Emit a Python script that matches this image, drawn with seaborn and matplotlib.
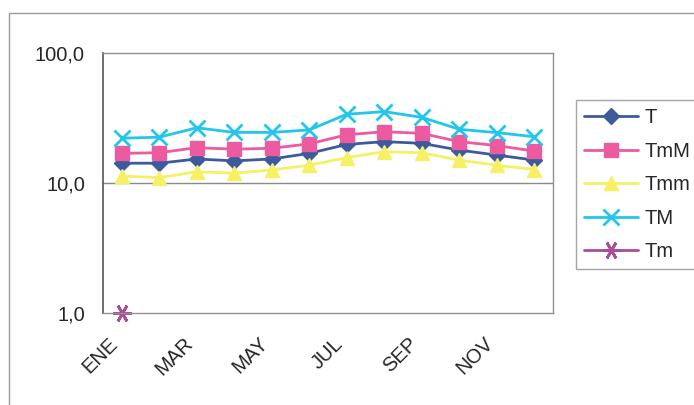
#!/usr/bin/env python3
import numpy as np
import pandas as pd
import seaborn as sns
import matplotlib.pyplot as plt
from matplotlib.patches import Rectangle

# categories
MONTHS = ["ENE", "FEB", "MAR", "ABR", "MAY", "JUN", "JUL", "AGO", "SEP", "OCT", "NOV", "DIC"]
SHOWN_LABELS = ["ENE", "MAR", "MAY", "JUL", "SEP", "NOV"]

# series
T   = [14.2, 14.2, 15.3, 14.8, 15.3, 16.9, 19.8, 20.8, 20.2, 17.9, 16.4, 15.0]
TMM = [16.9, 17.1, 18.7, 18.2, 18.5, 20.0, 23.5, 24.8, 24.1, 20.8, 19.4, 17.6]
TMMIN = [11.3, 11.0, 12.2, 11.9, 12.6, 13.7, 15.7, 17.4, 17.1, 15.0, 13.7, 12.7]
TM  = [22.1, 22.5, 26.6, 24.5, 24.5, 25.6, 33.8, 35.4, 32.0, 25.9, 24.4, 22.7]
TMIN = [1.0] + [np.nan] * 11

STAR = (6, 2, 90)
SERIES = [
    ("T", T, "#3d5a9c", "D", 8),
    ("TmM", TMM, "#ec5aa0", "s", 10),
    ("Tmm", TMMIN, "#f6f064", "^", 10),
    ("TM", TM, "#22c6ea", "x", 11),
    ("Tm", TMIN, "#a84d98", STAR, 13),
]

sns.set_style("white")
plt.rcParams["font.family"] = ["Liberation Sans", "DejaVu Sans"]
plt.rcParams["font.size"] = 14.5

fig = plt.figure(figsize=(6.94, 4.05), dpi=100)
ax = fig.add_axes([103 / 694, 1 - 313 / 405, 450 / 694, 260 / 405])

# outer chart frame
fig.patches.append(Rectangle((9 / 694, -0.1), 1.0, 1.1 - 13 / 405, transform=fig.transFigure,
                             fill=False, edgecolor="#9a9a9a", linewidth=1.0))

for name, vals, col, mk, ms in SERIES:
    df = pd.DataFrame({"x": np.arange(len(MONTHS)), "y": vals}).dropna()
    sns.lineplot(data=df, x="x", y="y", ax=ax, color=col, marker=mk, markersize=ms,
                 markeredgecolor=col, markeredgewidth=2 if mk in ("x", STAR) else 1,
                 linewidth=2, label=name, clip_on=False)

ax.set_yscale("log")
ax.set_ylim(1, 100)
ax.set_yticks([1, 10, 100])
ax.set_yticklabels(["1,0", "10,0", "100,0"])
ax.yaxis.set_minor_locator(plt.NullLocator())
ax.tick_params(axis="y", which="major", direction="out", length=5, width=1, color="#555555", pad=8)

ax.set_xlim(-0.5, len(MONTHS) - 0.5)
ax.set_xticks(np.arange(-0.5, len(MONTHS), 1))
ax.set_xticklabels([])
ax.tick_params(axis="x", which="major", direction="out", length=5, width=1, color="#777777")
lab_pos = [MONTHS.index(m) for m in SHOWN_LABELS]
ax.set_xticks(lab_pos, minor=True)
ax.set_xticklabels(SHOWN_LABELS, minor=True, rotation=45, ha="right")
ax.tick_params(axis="x", which="minor", length=0, pad=15)

ax.set_xlabel("")
ax.set_ylabel("")
ax.axhline(10, color="#8a8a8a", linewidth=1, zorder=0)
for s in ["top", "right", "bottom"]:
    ax.spines[s].set_color("#8f8f8f")
    ax.spines[s].set_linewidth(1)
ax.spines["left"].set_color("#555555")
ax.spines["left"].set_linewidth(1.2)

leg = ax.legend(loc="upper left", bbox_to_anchor=(576 / 694, 1 - 100 / 405),
                bbox_transform=fig.transFigure, borderaxespad=0, frameon=True,
                fancybox=False, edgecolor="#8f8f8f", handlelength=2.7, handletextpad=0.3,
                labelspacing=0.72, borderpad=0.4, fontsize=14.5)
leg.get_frame().set_linewidth(1)

plt.savefig("out.png", dpi=100)
plt.close()
